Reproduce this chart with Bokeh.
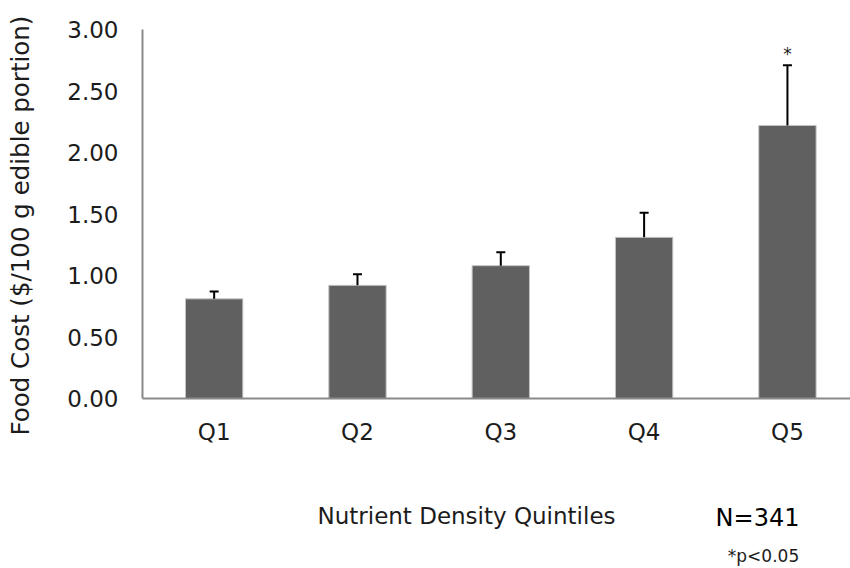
from bokeh.plotting import figure
from bokeh.layouts import column, row
from bokeh.models import (ColumnDataSource, FixedTicker, NumeralTickFormatter,
                          Whisker, TeeHead)
from bokeh.core.properties import value
from bokeh.embed import file_html
from bokeh.resources import INLINE

# Mean food cost per nutrient-density quintile, with upper error (SD)
quintiles = ["Q1", "Q2", "Q3", "Q4", "Q5"]
mean_cost = [0.81, 0.92, 1.08, 1.31, 2.22]
error_up = [0.06, 0.09, 0.11, 0.20, 0.49]
significance = ["", "", "", "", "*"]
y_ticks = [0.0, 0.5, 1.0, 1.5, 2.0, 2.5, 3.0]

y_title = "Food Cost ($/100 g edible portion)"
x_title = "Nutrient Density Quintiles"
sample_note = "N=341"
sig_note = "*p<0.05"

FONT = "DejaVu Sans"
TEXT = "#1c1c1c"
AXIS = "#8a8a8a"

centers = [i + 0.5 for i in range(len(quintiles))]
src = ColumnDataSource(dict(
    x=centers,
    mean=mean_cost,
    upper=[m + e for m, e in zip(mean_cost, error_up)],
    sig=significance,
))

# ---- main bar chart -------------------------------------------------------
p = figure(width=805, height=470, x_range=(0, 4.94), y_range=(0, 3),
           output_backend="svg", toolbar_location=None,
           min_border_left=97, min_border_right=0,
           min_border_top=29, min_border_bottom=72)
p.outline_line_color = None
p.grid.visible = False

p.vbar(x="x", top="mean", width=0.40, source=src,
       fill_color="#606060", line_color="#c4c4c4", line_width=1)

err = Whisker(source=src, base="x", upper="upper", lower="mean",
              dimension="height", line_color="black", line_width=2,
              upper_head=TeeHead(size=9, line_color="black", line_width=2),
              lower_head=None, level="annotation")
p.add_layout(err)

p.text(x="x", y="upper", text="sig", source=src, y_offset=-1,
       text_align="center", text_baseline="bottom",
       text_font=value(FONT), text_font_size="17px", text_color=TEXT)

# y axis
p.yaxis.ticker = FixedTicker(ticks=y_ticks)
p.yaxis.formatter = NumeralTickFormatter(format="0.00")
p.yaxis.major_tick_out = 6
p.yaxis.major_tick_in = 0
p.yaxis.major_label_standoff = 18
p.yaxis.major_label_text_font = FONT
p.yaxis.major_label_text_font_size = "23px"
p.yaxis.major_label_text_color = TEXT

# x axis: labels at bar centres, ticks at category boundaries
p.xaxis.ticker = FixedTicker(ticks=centers,
                             minor_ticks=list(range(len(quintiles))))
p.xaxis.major_label_overrides = {c: q for c, q in zip(centers, quintiles)}
p.xaxis.major_tick_out = 0
p.xaxis.major_tick_in = 0
p.xaxis.minor_tick_out = 8
p.xaxis.minor_tick_in = 0
p.xaxis.major_label_standoff = 12
p.xaxis.major_label_text_font = FONT
p.xaxis.major_label_text_font_size = "23px"
p.xaxis.major_label_text_color = TEXT

for ax in (p.xaxis, p.yaxis):
    ax.axis_line_color = AXIS
    ax.axis_line_width = 2
    ax.major_tick_line_color = AXIS if ax is p.yaxis else None
    ax.major_tick_line_width = 2
    ax.minor_tick_line_color = AXIS if ax is p.xaxis else None
    ax.minor_tick_line_width = 2


def text_strip(width, height, x_range, border_left=0):
    """A bare figure used only to carry free-standing texts."""
    f = figure(width=width, height=height, x_range=x_range,
               y_range=(0, height), output_backend="svg",
               toolbar_location=None, x_axis_location=None,
               y_axis_location=None, min_border=0,
               min_border_left=border_left)
    f.outline_line_color = None
    f.grid.visible = False
    return f


# ---- rotated y-axis title on the left (full page height) -------------------
left = text_strip(45, 568, (0, 45))
left.text(x=[20], y=[343], text=[y_title], angle=1.5708,
          text_align="center", text_baseline="middle",
          text_font=value(FONT), text_font_size="24.5px", text_color=TEXT)

# ---- x-axis title and notes underneath (x in page pixels) ------------------
bottom = text_strip(805, 98, (142, 850), border_left=97)
bottom.text(x=[466], y=[53], text=[x_title],
            text_align="center", text_baseline="middle",
            text_font=value(FONT), text_font_size="23px", text_color=TEXT)
bottom.text(x=[757], y=[51], text=[sample_note],
            text_align="center", text_baseline="middle",
            text_font=value(FONT), text_font_size="24px", text_color="black")
bottom.text(x=[763], y=[13], text=[sig_note],
            text_align="center", text_baseline="middle",
            text_font=value(FONT), text_font_size="17px", text_color=TEXT)

page = row(left, column(p, bottom, spacing=0), spacing=0)
open("out.html", "w").write(file_html(page, INLINE))
